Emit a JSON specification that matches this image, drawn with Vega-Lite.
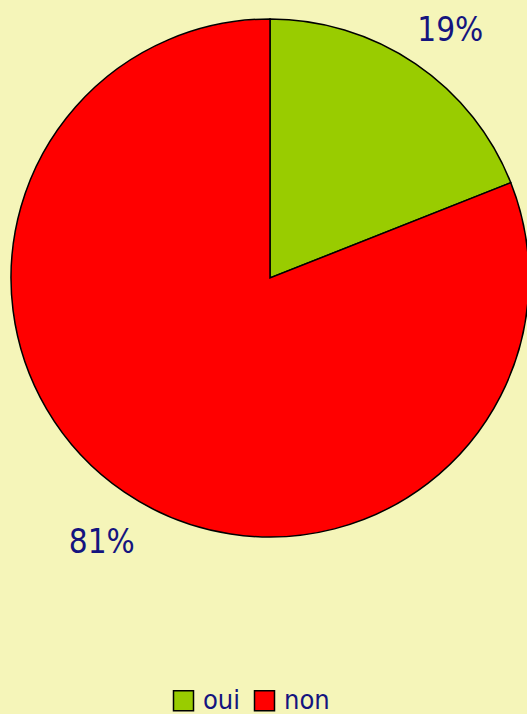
{
  "$schema": "https://vega.github.io/schema/vega-lite/v6.json",
  "width": 540,
  "height": 556,
  "padding": 0,
  "autosize": {"type": "pad"},
  "background": "#f5f5b9",
  "config": {"view": {"stroke": null}},
  "data": {"values": [
    {"reponse": "oui", "pct": 19, "label": "19%", "ordre": 1},
    {"reponse": "non", "pct": 81, "label": "81%", "ordre": 2}
  ]},
  "encoding": {
    "theta": {"field": "pct", "type": "quantitative", "stack": true},
    "order": {"field": "ordre", "type": "quantitative"}
  },
  "layer": [
    {
      "mark": {"type": "arc", "radius": 259, "stroke": "black", "strokeWidth": 1.5},
      "encoding": {
        "color": {
          "field": "reponse", "type": "nominal",
          "scale": {"domain": ["oui", "non"], "range": ["#99cc00", "#ff0000"]},
          "legend": {
            "title": null, "orient": "none", "direction": "horizontal",
            "legendX": 170, "legendY": 687,
            "symbolType": "square", "symbolSize": 400, "symbolStrokeColor": "black", "symbolStrokeWidth": 1.5,
            "labelFont": "DejaVu Sans Condensed", "labelFontSize": 27, "labelColor": "#14147f",
            "columnPadding": 10, "labelOffset": 6
          }
        }
      }
    },
    {
      "mark": {"type": "text", "radius": 310, "dx": 6, "dy": 9, "font": "DejaVu Sans Condensed", "fontSize": 33, "color": "#14147f"},
      "encoding": {"text": {"field": "label"}}
    }
  ]
}
